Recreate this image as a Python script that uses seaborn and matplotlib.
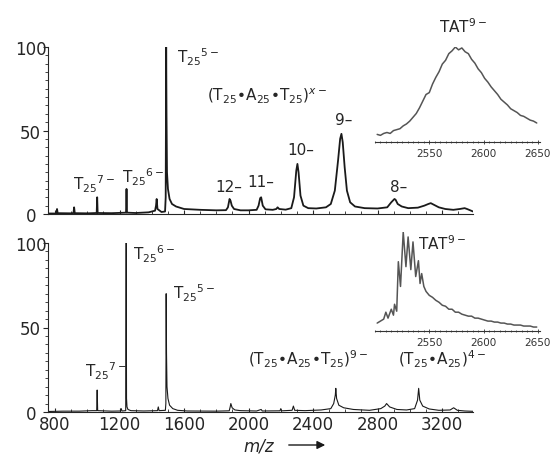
import matplotlib.pyplot as plt
import seaborn as sns
from matplotlib.ticker import MultipleLocator

sns.set_style('ticks')
plt.rcParams['font.family'] = ['DejaVu Sans']
plt.rcParams['mathtext.default'] = 'regular'

# top spectrum (m/z, relative intensity)
mz_top = [756, 800, 808, 812, 816, 900, 914, 918, 922, 1000,
          1058, 1061, 1064, 1150, 1240, 1243, 1246, 1300, 1380, 1420,
          1426, 1430, 1435, 1460, 1482, 1486, 1489, 1491, 1494, 1500,
          1510, 1525, 1550, 1600, 1700, 1800, 1860, 1872, 1882, 1888,
          1896, 1910, 1950, 2000, 2050, 2062, 2072, 2078, 2088, 2105,
          2150, 2172, 2180, 2190, 2230, 2265, 2282, 2296, 2303, 2310,
          2322, 2340, 2370, 2420, 2480, 2510, 2535, 2555, 2568, 2576,
          2584, 2596, 2610, 2630, 2660, 2720, 2800, 2860, 2885, 2905,
          2912, 2925, 2950, 2990, 3050, 3090, 3115, 3130, 3150, 3180,
          3220, 3270, 3310, 3340, 3355, 3380, 3392]
int_top = [0.3, 0.3, 0.5, 3, 0.5, 0.4, 0.6, 4, 0.5, 0.4,
           0.6, 10, 0.6, 0.5, 0.8, 15, 0.8, 0.6, 1, 2,
           5, 9, 3, 1.2, 1.5, 10, 100, 60, 25, 15,
           9, 6, 4.5, 3, 2.5, 2.2, 2.3, 4, 9, 8,
           5, 3, 2.2, 2.2, 2.5, 5, 9.5, 10, 5, 2.8,
           2.5, 3, 4, 3, 2.6, 3.5, 10, 26, 30, 25,
           11, 5, 3.5, 3.3, 4, 6, 14, 32, 45, 48,
           43, 28, 14, 7, 4.5, 3.5, 3.3, 4, 7, 9,
           8.5, 6, 4.5, 3.5, 3.8, 5, 6, 6.5, 5.5, 4,
           3, 2.5, 3, 3.5, 3, 2, 1.5]

# bottom spectrum
mz_bot = [756, 850, 950, 1030, 1058, 1061, 1064, 1150, 1205, 1210,
          1215, 1238, 1241, 1243, 1246, 1252, 1270, 1350, 1435, 1440,
          1445, 1484, 1487, 1489, 1491, 1494, 1500, 1510, 1530, 1560,
          1620, 1800, 1880, 1886, 1890, 1898, 1915, 1950, 2050, 2078,
          2085, 2195, 2200, 2205, 2270, 2278, 2286, 2350, 2450, 2510,
          2528, 2538, 2541, 2546, 2560, 2590, 2650, 2750, 2820, 2845,
          2856, 2875, 2920, 2980, 3030, 3048, 3055, 3062, 3080, 3120,
          3180, 3250, 3272, 3295, 3340, 3392]
int_bot = [0.3, 0.5, 0.5, 0.8, 0.8, 13, 0.8, 0.5, 0.6, 2,
           0.6, 0.8, 100, 8, 3, 1.5, 0.8, 0.6, 0.8, 3,
           0.8, 1, 5, 70, 35, 15, 8, 4, 2, 1,
           0.6, 0.5, 0.7, 3, 5, 2.5, 1.2, 0.8, 0.6, 1.5,
           0.6, 0.7, 2, 0.7, 1, 3.5, 1, 0.8, 1.2, 2,
           5, 10, 14, 8, 4, 2.5, 1.5, 1, 2, 3.5,
           5, 3, 1.5, 1.2, 2, 7, 14, 7, 3.5, 1.8,
           1, 1.2, 2.5, 1, 0.6, 0.4]

# TAT9- insets (normalised)
mz_in_top = [2502, 2505, 2508, 2511, 2514, 2517, 2520, 2523, 2526, 2529,
             2532, 2535, 2538, 2541, 2544, 2547, 2550, 2553, 2556, 2559,
             2562, 2565, 2568, 2571, 2574, 2577, 2580, 2583, 2586, 2589,
             2592, 2595, 2598, 2601, 2604, 2607, 2610, 2613, 2616, 2619,
             2622, 2625, 2628, 2631, 2634, 2637, 2640, 2643, 2646, 2649]
int_in_top = [0.08, 0.07, 0.09, 0.10, 0.09, 0.12, 0.13, 0.14, 0.17, 0.19,
              0.22, 0.26, 0.30, 0.36, 0.43, 0.50, 0.52, 0.61, 0.68, 0.74,
              0.82, 0.86, 0.93, 0.96, 1.00, 0.97, 0.99, 0.95, 0.93, 0.87,
              0.83, 0.77, 0.73, 0.67, 0.63, 0.58, 0.54, 0.50, 0.45, 0.42,
              0.39, 0.35, 0.33, 0.31, 0.28, 0.27, 0.25, 0.23, 0.22, 0.20]

mz_in_bot = [2502, 2505, 2508, 2510, 2512, 2515, 2517, 2518, 2520, 2521.5,
             2523.5, 2526, 2528.5, 2530.5, 2533, 2535, 2537.5, 2540, 2541.5, 2543,
             2545, 2547, 2550, 2553, 2556, 2559, 2562, 2565, 2568, 2571,
             2574, 2577, 2580, 2583, 2586, 2589, 2592, 2595, 2598, 2601,
             2604, 2607, 2610, 2613, 2616, 2619, 2622, 2625, 2628, 2631,
             2634, 2637, 2640, 2643, 2646, 2649]
int_in_bot = [0.08, 0.10, 0.12, 0.19, 0.13, 0.22, 0.16, 0.27, 0.20, 0.70,
              0.45, 1.00, 0.65, 0.95, 0.62, 0.90, 0.55, 0.71, 0.48, 0.58,
              0.45, 0.40, 0.36, 0.34, 0.31, 0.29, 0.26, 0.25, 0.22, 0.22,
              0.19, 0.19, 0.17, 0.16, 0.15, 0.15, 0.13, 0.13, 0.12, 0.11,
              0.10, 0.10, 0.09, 0.09, 0.08, 0.08, 0.07, 0.07, 0.06, 0.06,
              0.06, 0.05, 0.05, 0.05, 0.04, 0.04]

W, H = 557, 456
fig = plt.figure(figsize=(W / 100, H / 100), dpi=100)


def main_axes(rect, mz, inten, lw, show_x):
    ax = fig.add_axes(rect)
    sns.lineplot(x=mz, y=inten, ax=ax, color='#1a1a1a', lw=lw,
                 estimator=None, sort=False)
    ax.set_xlim(756, 3392)
    ax.set_ylim(0, 100)
    ax.set_yticks([0, 50, 100])
    ax.yaxis.set_minor_locator(MultipleLocator(5))
    ax.xaxis.set_major_locator(MultipleLocator(400))
    ax.xaxis.set_minor_locator(MultipleLocator(100))
    ax.tick_params(axis='y', which='major', direction='out', length=3.5,
                   width=0.8, labelsize=12, pad=9)
    ax.tick_params(axis='y', which='minor', direction='out', length=2, width=0.6)
    ax.tick_params(axis='x', which='major', direction='in', length=3,
                   width=0.8, labelsize=12, pad=2, labelbottom=show_x)
    ax.tick_params(axis='x', which='minor', direction='in', length=2, width=0.6)
    plt.setp(ax.get_yticklabels(), ha='center')
    for s in ['top', 'right']:
        ax.spines[s].set_visible(False)
    for s in ['left', 'bottom']:
        ax.spines[s].set_linewidth(0.8)
    ax.set_xlabel('')
    ax.set_ylabel('')
    ax.patch.set_alpha(0)
    return ax


def inset_axes(rect, mz, inten):
    ax = fig.add_axes(rect)
    sns.lineplot(x=mz, y=inten, ax=ax, color='#555555', lw=1.1,
                 estimator=None, sort=False)
    ax.set_xlim(2500, 2652)
    ax.set_ylim(0, 1.0)
    ax.set_yticks([])
    ax.set_xticks([2550, 2600, 2650])
    ax.xaxis.set_minor_locator(MultipleLocator(5))
    ax.tick_params(axis='x', which='major', direction='inout', length=3,
                   width=0.6, labelsize=7.5, pad=3, colors='#333333')
    ax.tick_params(axis='x', which='minor', direction='inout', length=2, width=0.5)
    for s in ['top', 'right', 'left']:
        ax.spines[s].set_visible(False)
    ax.spines['bottom'].set_linewidth(0.8)
    ax.spines['bottom'].set_color('#333333')
    ax.set_xlabel('')
    ax.set_ylabel('')
    ax.patch.set_alpha(0)
    return ax


ax1 = main_axes([48 / W, 1 - 215 / H, 425 / W, 167 / H], mz_top, int_top, 1.3, False)
ax2 = main_axes([48 / W, 1 - 413 / H, 425 / W, 169 / H], mz_bot, int_bot, 0.8, True)
ins1 = inset_axes([375 / W, 1 - 143 / H, 165 / W, 95 / H], mz_in_top, int_in_top)
ins2 = inset_axes([375 / W, 1 - 332 / H, 165 / W, 99 / H], mz_in_bot, int_in_bot)

# peak labels, top panel
fs = 11
ax1.text(1555, 101, r'T$_{25}{}^{5-}$', ha='left', va='top', fontsize=fs)
ax1.text(911, 25, r'T$_{25}{}^{7-}$', ha='left', va='top', fontsize=fs)
ax1.text(1215, 29, r'T$_{25}{}^{6-}$', ha='left', va='top', fontsize=fs)
ax1.text(1742, 77, r'(T$_{25}$•A$_{25}$•T$_{25}$)$^{\mathit{x}-}$',
         ha='left', va='top', fontsize=fs)
ax1.text(1792, 21, '12–', ha='left', va='top', fontsize=fs)
ax1.text(1990, 24, '11–', ha='left', va='top', fontsize=fs)
ax1.text(2239, 43, '10–', ha='left', va='top', fontsize=fs)
ax1.text(2536, 61, '9–', ha='left', va='top', fontsize=fs)
ax1.text(2877, 21, '8–', ha='left', va='top', fontsize=fs)

# peak labels, bottom panel
ax2.text(1283, 100, r'T$_{25}{}^{6-}$', ha='left', va='top', fontsize=fs)
ax2.text(1531, 77, r'T$_{25}{}^{5-}$', ha='left', va='top', fontsize=fs)
ax2.text(986, 31, r'T$_{25}{}^{7-}$', ha='left', va='top', fontsize=fs)
ax2.text(1997, 38, r'(T$_{25}$•A$_{25}$•T$_{25}$)$^{9-}$',
         ha='left', va='top', fontsize=fs)
ax2.text(2927, 38, r'(T$_{25}$•A$_{25}$)$^{4-}$',
         ha='left', va='top', fontsize=fs)

# inset titles
fig.text(463 / W, 1 - 17 / H, r'TAT$^{9-}$', ha='center', va='top', fontsize=fs)
fig.text(442 / W, 1 - 234 / H, r'TAT$^{9-}$', ha='center', va='top', fontsize=fs)

# x label with arrow
fig.text(259 / W, 1 - 447 / H, 'm/z', ha='center', va='center',
         fontsize=12, style='italic')
fig.patches.append(plt.matplotlib.patches.FancyArrowPatch(
    (286 / W, 1 - 446 / H), (328 / W, 1 - 446 / H),
    transform=fig.transFigure, arrowstyle='-|>', mutation_scale=12,
    color='#1a1a1a', lw=1.0))

fig.savefig('out.png', dpi=100)
